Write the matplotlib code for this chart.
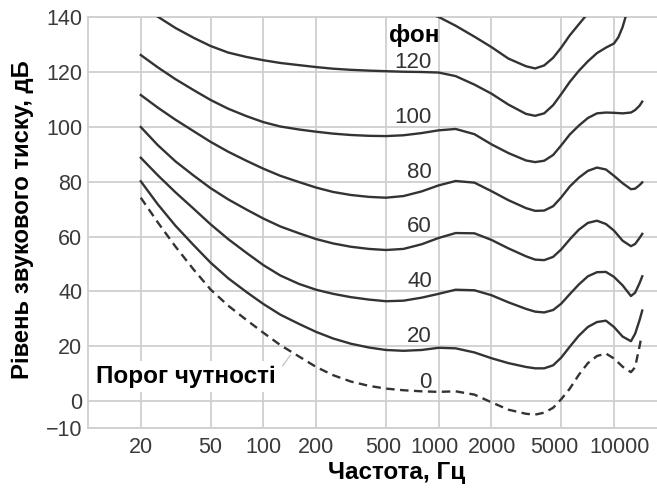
import matplotlib
matplotlib.use("Agg")
import matplotlib.pyplot as plt
from matplotlib.ticker import FixedLocator, FixedFormatter, NullLocator
from matplotlib.transforms import offset_copy

# ---------------- data ----------------
FREQ = [20, 25, 31.5, 40, 50, 63, 80, 100, 125, 160, 200, 250, 315, 400, 500,
        630, 800, 1000, 1250, 1600, 2000, 2500, 3150, 3550, 4000, 4500, 5000,
        5600, 6300, 7100, 8000, 9000, 10000, 11200, 12500, 13200, 14000, 14500]

threshold_freq = FREQ[:-1] + [14300]
threshold = [74.2, 65.2, 56.4, 48.0, 40.7, 34.8, 29.6, 24.9, 20.4, 16.2, 12.4,
             9.4, 7.1, 5.5, 4.5, 3.9, 3.5, 3.3, 3.5, 2.3, -0.5, -3.2, -4.7,
             -5.0, -4.3, -2.5, 0.6, 4.5, 9.5, 13.8, 16.4, 17.3, 15.5, 12.5,
             10.5, 12.3, 20.0, 23.0]

phon20 = [80.2, 71.8, 64.0, 56.9, 50.5, 44.8, 39.8, 35.4, 31.5, 28.1, 25.2,
          22.8, 20.9, 19.5, 18.6, 18.3, 18.6, 19.4, 19.2, 17.7, 15.6, 13.8,
          12.4, 11.9, 11.9, 13.0, 15.8, 19.8, 23.8, 27.0, 28.8, 29.3, 27.0,
          23.5, 21.8, 24.5, 29.5, 33.0]

phon40 = [88.8, 82.4, 76.2, 70.2, 64.5, 59.1, 54.1, 49.6, 45.8, 42.7, 40.6,
          39.1, 37.9, 37.0, 36.4, 36.6, 37.7, 39.1, 40.6, 40.4, 38.6, 36.0,
          33.6, 32.6, 32.3, 33.2, 35.5, 39.0, 42.5, 45.5, 47.0, 47.1, 45.3,
          42.2, 38.3, 39.5, 43.0, 45.5]

phon60 = [100.0, 93.4, 87.5, 82.3, 77.7, 73.6, 69.9, 66.6, 63.7, 61.2, 59.1,
          57.5, 56.3, 55.5, 55.1, 55.5, 57.2, 59.5, 61.3, 61.2, 58.8, 55.7,
          52.8, 51.6, 51.4, 52.6, 55.3, 59.0, 62.5, 65.0, 65.8, 64.6, 62.2,
          58.5, 56.5, 57.3, 59.5, 61.0]

phon80 = [111.7, 107.1, 102.7, 98.5, 94.6, 91.0, 87.7, 84.8, 82.2, 79.9, 77.9,
          76.3, 75.2, 74.5, 74.2, 74.8, 76.5, 78.7, 80.3, 79.7, 76.6, 73.3,
          70.4, 69.4, 69.5, 71.1, 74.3, 78.3, 81.5, 84.0, 85.2, 84.5, 82.2,
          79.5, 77.3, 77.5, 78.8, 79.8]

phon100 = [126.3, 121.8, 117.5, 113.5, 109.9, 106.7, 104.0, 101.8, 100.2, 99.1,
           98.3, 97.6, 97.1, 96.8, 96.7, 97.0, 97.8, 98.8, 99.3, 97.4, 93.7,
           90.5, 87.8, 87.2, 87.7, 89.8, 93.3, 97.3, 100.5, 103.3, 105.0, 105.3,
           105.2, 105.0, 105.3, 106.2, 107.8, 109.3]

phon120_freq = [20, 25, 31.5, 40, 50, 63, 80, 100, 125, 160, 200, 250, 315, 400,
                500, 630, 800, 1000, 1250, 1600, 2000, 2500, 3150, 3550, 4000,
                4500, 5000, 5600, 6300, 7100, 8000, 9000, 10000, 10600, 11200,
                12000]
phon120 = [145.0, 140.3, 136.2, 132.6, 129.6, 127.2, 125.6, 124.4, 123.4, 122.6,
           121.9, 121.3, 120.9, 120.6, 120.4, 120.2, 120.1, 119.9, 118.6, 115.5,
           112.2, 108.2, 104.8, 104.1, 105.0, 108.0, 112.0, 116.5, 120.5, 124.0,
           127.0, 129.0, 130.5, 132.8, 136.5, 143.0]

phon140_freq = [630, 800, 1000, 1250, 1600, 2000, 2500, 3150, 3550, 4000, 4500,
                5000, 5600, 6300, 7100]
phon140 = [145.0, 142.3, 140.2, 137.0, 133.0, 129.2, 125.0, 122.2, 121.4, 122.5,
           125.3, 129.0, 133.5, 137.5, 141.5]

phon_labels = ["120", "100", "80", "60", "40", "20", "0"]
phon_label_levels = [120, 100, 80, 60, 40, 20, 0]

x_ticks = [20, 50, 100, 200, 500, 1000, 2000, 5000, 10000]
x_tick_labels = ["20", "50", "100", "200", "500", "1000", "2000", "5000", "10000"]
y_ticks = [-10, 0, 20, 40, 60, 80, 100, 120, 140]
y_tick_labels = ["\u221210", "0", "20", "40", "60", "80", "100", "120", "140"]

# ---------------- figure ----------------
plt.rcParams['font.family'] = ['Liberation Sans', 'DejaVu Sans']

W, H = 657, 490
fig = plt.figure(figsize=(W / 100, H / 100), dpi=100)
ax = fig.add_axes([88 / W, (H - 428.3) / H, (W - 88) / W, (428.3 - 17.5) / H])
ax.set_xscale('log')
ax.set_xlim(10, 17600)
ax.set_ylim(-10, 140)

grid_c = '#cfcfcf'
tick_c = '#3a3a3a'
ax.xaxis.set_major_locator(FixedLocator(x_ticks))
ax.xaxis.set_minor_locator(NullLocator())
ax.yaxis.set_major_locator(FixedLocator(y_ticks))
ax.yaxis.set_major_formatter(FixedFormatter(y_tick_labels))
ax.grid(True, color=grid_c, lw=1.3, zorder=0)
ax.set_axisbelow(True)
for s in ['top', 'left', 'bottom']:
    ax.spines[s].set_color(grid_c)
    ax.spines[s].set_linewidth(1.3)
ax.spines['right'].set_visible(False)
ax.tick_params(axis='both', length=0, labelsize=15.5, colors=tick_c)
ax.tick_params(axis='x', labelbottom=False)
ax.tick_params(axis='y', pad=4)

# x tick labels (nudged like in the reference so the long ones do not touch)
x_label_nudge = {500: -3, 1000: -4, 2000: 1, 5000: -7, 10000: 6}
for xv, lab in zip(x_ticks, x_tick_labels):
    tr = offset_copy(ax.get_xaxis_transform(), fig=fig,
                     x=x_label_nudge.get(xv, 0), y=-24.7, units='dots')
    ax.text(xv, 0, lab, transform=tr, ha='center', va='baseline',
            fontsize=15.5, color=tick_c, clip_on=False)

line_c = '#333333'
lw = 1.7
for fr, vals in [(FREQ, phon20), (FREQ, phon40), (FREQ, phon60), (FREQ, phon80),
                 (FREQ, phon100), (phon120_freq, phon120), (phon140_freq, phon140)]:
    ax.plot(fr, vals, color=line_c, lw=lw, zorder=3, solid_joinstyle='round')
ln, = ax.plot(threshold_freq, threshold, color=line_c, lw=lw, zorder=3)
ln.set_dashes((3.6, 2.3))

# phon labels
for txt, lev in zip(phon_labels, phon_label_levels):
    off = 4.6 if lev == 0 else 1.5
    ax.text(915, lev + off, txt, ha='right', va='baseline', fontsize=16,
            color='#333333', zorder=4)
ax.text(1010, 131.2, "фон", ha='right', va='baseline', fontsize=17.5,
        fontweight='bold', color='black', zorder=4)

# threshold label with a short leader to the dashed curve
ax.annotate("Порог чутності", xy=(146, 17.6), xytext=(11.1, 6.5),
            ha='left', va='baseline', fontsize=17.5, fontweight='bold',
            color='black', zorder=4,
            bbox=dict(boxstyle='square,pad=0.15', fc='white', ec='none'),
            arrowprops=dict(arrowstyle='-', color='#c8c8c8', lw=1,
                            relpos=(1.0, 0.55), shrinkA=4, shrinkB=2))

# axis labels
fig.text(396.5 / W, 1 - 472 / H, "Частота, Гц", ha='center', va='center',
         fontsize=17.5, fontweight='bold', color='black')
fig.text(23 / W, 1 - 220 / H, "Рівень звукового тиску, дБ", ha='center',
         va='center', rotation=90, fontsize=17.2, fontweight='bold',
         color='black')

fig.savefig("out.png", dpi=100)
